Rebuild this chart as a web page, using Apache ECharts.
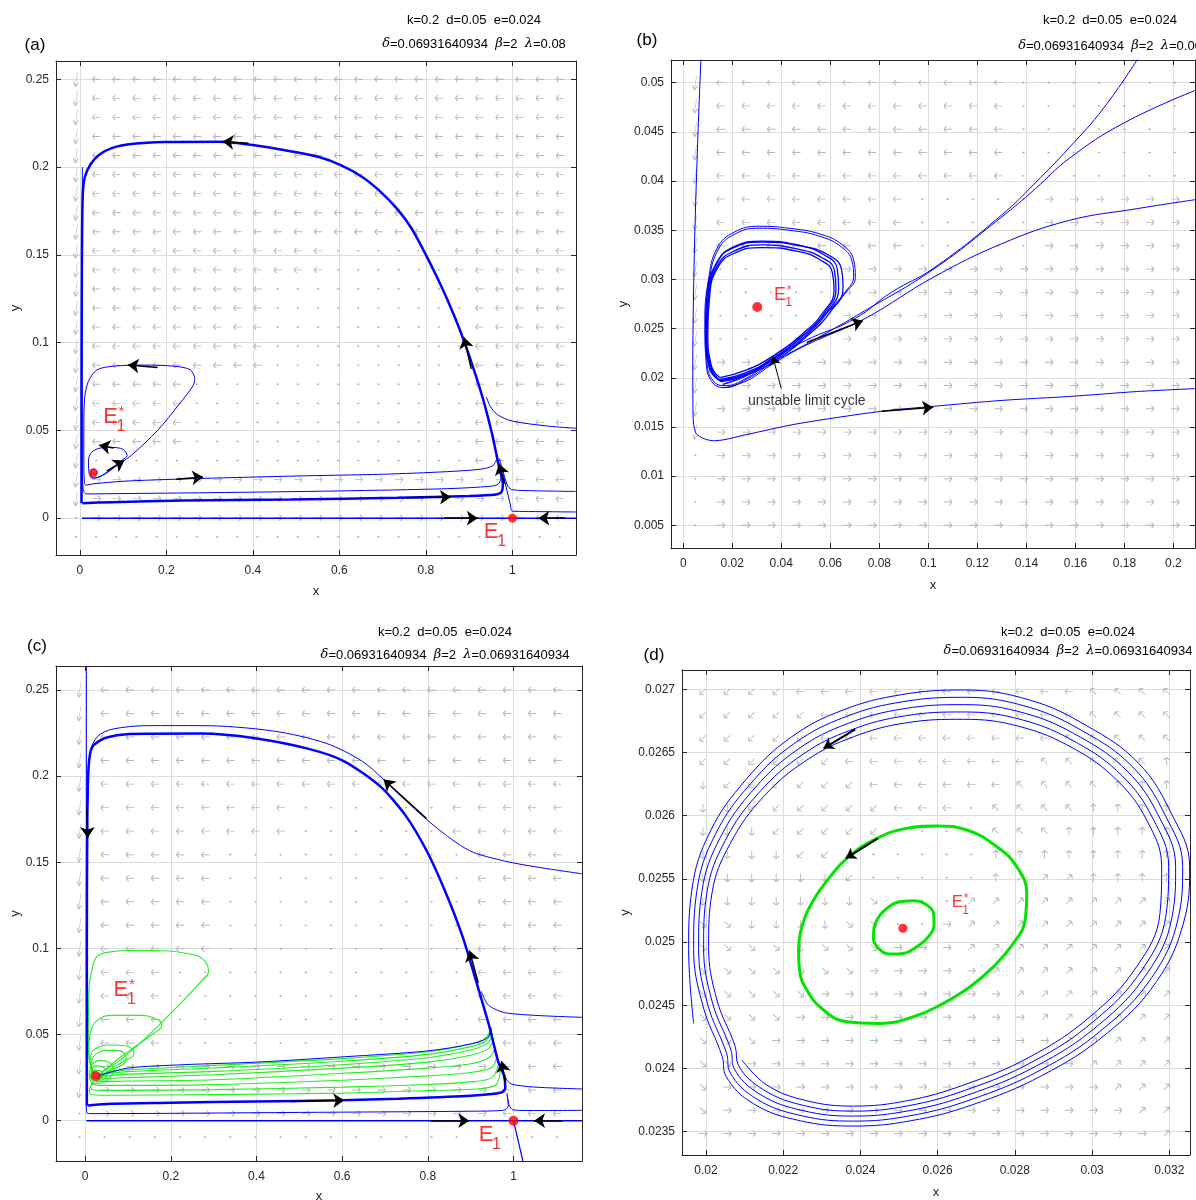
<!DOCTYPE html>
<html>
<head>
<meta charset="utf-8">
<script src="https://cdn.jsdelivr.net/npm/echarts@6/dist/echarts.min.js"></script>
<style>
html, body { margin: 0; padding: 0; background: #fff; }
#chart { width: 1196px; height: 1200px; }
</style>
</head>
<body>
<div id="chart"></div>
<script>
// ---------- panel (a) ----------
const aTicksX = [0, 0.2, 0.4, 0.6, 0.8, 1]
const aTicksY = [0, 0.05, 0.1, 0.15, 0.2, 0.25]
const aBigLoop = [[0.006,0.0085],[0.074,0.0091],[0.239,0.0100],[0.487,0.0106],[0.734,0.0116],[0.9,0.0126],[0.962,0.0135],[0.975,0.0150],[0.978,0.0200],[0.971,0.0270],[0.965,0.034],[0.953,0.048],[0.936,0.0644],[0.916,0.0807],[0.891,0.099],[0.866,0.115],[0.833,0.1335],[0.8,0.150],[0.767,0.165],[0.734,0.176],[0.693,0.1864],[0.652,0.1945],[0.602,0.2012],[0.553,0.2057],[0.487,0.209],[0.404,0.2124],[0.322,0.2144],[0.198,0.2142],[0.124,0.2132],[0.074,0.2108],[0.045,0.207],[0.025,0.2016],[0.012,0.1945],[0.007,0.185],[0.005,0.15],[0.004,0.07],[0.004,0.0085]]
const aSpiral = [[0.031,0.0258],[0.036,0.0245],[0.04,0.0262],[0.035,0.0278],[0.028,0.0272],[0.026,0.0245],[0.033,0.0228],[0.05,0.0240],[0.075,0.0280],[0.098,0.0330],[0.1095,0.0356],[0.1,0.0392],[0.075,0.0403],[0.045,0.0398],[0.027,0.0375],[0.02,0.033],[0.021,0.0265],[0.028,0.0228],[0.045,0.0235],[0.08,0.029],[0.12,0.036],[0.18,0.05],[0.23,0.065],[0.262,0.0755],[0.2657,0.0795],[0.255,0.0845],[0.22,0.0865],[0.15,0.0872],[0.08,0.0866],[0.04,0.0845],[0.02,0.078],[0.011,0.068],[0.0093,0.05],[0.0095,0.03],[0.0105,0.021],[0.0135,0.0188],[0.03,0.0195],[0.1,0.021],[0.2,0.022],[0.28,0.0226],[0.5,0.024],[0.7,0.025],[0.85,0.0265],[0.93,0.028],[0.955,0.03],[0.965,0.034]]
const aLowFlow = [[0.006,0.2],[0.005,0.1],[0.006,0.03],[0.008,0.016],[0.015,0.0138],[0.1,0.014],[0.3,0.0145],[0.6,0.0155],[0.85,0.0168],[0.95,0.0182],[0.968,0.0195],[0.975,0.024]]
const aRight1 = [[1.147,0.0512],[1.08,0.0525],[1.0,0.0553],[0.965,0.059],[0.948,0.064],[0.94,0.069]]
const aRight2 = [[1.147,0.0152],[1.05,0.0156],[1.0,0.0162],[0.99,0.0180],[0.985,0.021],[0.978,0.027]]
const aRight3 = [[1.147,0.0035],[1.03,0.0038],[1.0,0.004],[0.995,0.008],[0.987,0.016],[0.978,0.026],[0.97,0.034]]
const aAxisFlow = [[0.005,0],[1.147,0]]
const aArrows = [[[0.39,0.2135],[0.33,0.2145]],[[0.905,0.085],[0.888,0.103]],[[0.062,0.0268],[0.103,0.0329]],[[0.078,0.04],[0.045,0.0415]],[[0.18,0.0858],[0.111,0.0872]],[[0.223,0.0222],[0.285,0.0234]],[[0.755,0.0116],[0.858,0.012]],[[0.842,0],[0.92,0]],[[1.122,0],[1.06,0]],[[0.982,0.0197],[0.969,0.031]]]
const aEquilibria = [[1,0],[0.031,0.0258]]
const aQuiverRows = [
  'D444444444444444444444444','D444444444444444444444444','D444444444444444444444444',
  'D444444444444444444444444','D444444444444444444444444','D444444444444444444444444',
  'D444444444444444444444444','D444444444444444444444444','D444444444444444444444444',
  'D444444444444......444444','D444444444444......444444',
  'D444444444..........44444','D444444444..........44444','D444444444..........44444',
  'D444444444..........44444','D444444444..........44444',
  'D44444..............44444','D44444..............44444','D44444..............44444',
  'D44444..............44444','D...................44444',
  'D666666666666666666666444','D666666666666666666666444',
  '.666666666666666666666444','.........................'
]

// ---------- panel (b) ----------
const bTicksX = [0, 0.02, 0.04, 0.06, 0.08, 0.1, 0.12, 0.14, 0.16, 0.18, 0.2]
const bTicksY = [0.005, 0.01, 0.015, 0.02, 0.025, 0.03, 0.035, 0.04, 0.045, 0.05]
const bLeftFlow = [[0.0072,0.0524],[0.0058,0.0434],[0.0045,0.0325],[0.0039,0.0217],[0.0040,0.0162],[0.0051,0.0144],[0.0086,0.0138],[0.0128,0.0136],[0.0253,0.0142],[0.046,0.0153],[0.081,0.0166],[0.102,0.0171],[0.13,0.0177],[0.1575,0.0181],[0.185,0.0186],[0.2088,0.0189]]
const bCycle1 = [[0.014893,0.020024],[0.02533,0.020748],[0.036465,0.022196],[0.048991,0.024549],[0.057342,0.026722],[0.061517,0.028894],[0.060821,0.030704],[0.05595,0.031971],[0.046207,0.032876],[0.032289,0.033238],[0.021155,0.032695],[0.014196,0.031247],[0.010717,0.02817],[0.010021,0.024549],[0.011413,0.021291],[0.014893,0.020024]]
const bCycle2 = [[0.0147,0.0198],[0.0254,0.0205],[0.0368,0.0220],[0.0495,0.0244],[0.0580,0.0267],[0.0623,0.0290],[0.0617,0.0309],[0.0566,0.0322],[0.0463,0.0331],[0.0322,0.0335],[0.0209,0.0329],[0.0140,0.0314],[0.0104,0.0282],[0.0097,0.0245],[0.0111,0.0212],[0.0147,0.0198]]
const bCycle3 = [[0.0150,0.0197],[0.0258,0.0204],[0.0372,0.0219],[0.0500,0.0243],[0.0588,0.0267],[0.0634,0.0291],[0.0628,0.0311],[0.0574,0.0325],[0.0468,0.0335],[0.0322,0.0339],[0.0205,0.0333],[0.0137,0.0316],[0.0101,0.0283],[0.0094,0.0245],[0.0108,0.0211],[0.0150,0.0197]]
const bCycle4 = [[0.0156,0.0196],[0.0262,0.0203],[0.0378,0.0218],[0.0508,0.0243],[0.0600,0.0267],[0.0652,0.0292],[0.0646,0.0310],[0.0590,0.0325],[0.0478,0.0334],[0.0320,0.0338],[0.0203,0.0332],[0.0134,0.0316],[0.0097,0.0283],[0.0092,0.0245],[0.0106,0.0210],[0.0156,0.0196]]
const bEscape1 = [[0.0165,0.0194],[0.0260,0.0203],[0.0370,0.0222],[0.0500,0.0246],[0.0590,0.0268],[0.0660,0.0287],[0.0695,0.0303],[0.0688,0.0319],[0.0645,0.0333],[0.0555,0.0344],[0.0430,0.0350],[0.0310,0.0352],[0.0210,0.0346],[0.0142,0.0330],[0.0106,0.0298],[0.0091,0.0255],[0.0097,0.0215],[0.0122,0.0197],[0.0168,0.0192],[0.0260,0.0200],[0.0365,0.0219],[0.0500,0.0238],[0.0699,0.0260],[0.0850,0.0287],[0.1019,0.0311],[0.1297,0.0365],[0.1436,0.0398],[0.1575,0.0434],[0.1715,0.0474],[0.1854,0.0524]]
const bEscape2 = [[0.0160,0.0193],[0.0258,0.0202],[0.0372,0.0221],[0.0505,0.0246],[0.0596,0.0268],[0.0668,0.0288],[0.0702,0.0302],[0.0695,0.0320],[0.0650,0.0335],[0.0560,0.0346],[0.0432,0.0352],[0.0310,0.0354],[0.0208,0.0348],[0.0139,0.0332],[0.0103,0.0300],[0.0088,0.0255],[0.0094,0.0214],[0.0120,0.0195],[0.0168,0.0190],[0.0262,0.0199],[0.0368,0.0216],[0.0530,0.0238],[0.0740,0.0268],[0.1019,0.0310],[0.1297,0.0363],[0.1436,0.0392],[0.1575,0.0423],[0.1798,0.0459],[0.2088,0.0492]]
const bEscape3 = [[0.0170,0.0190],[0.0260,0.0197],[0.0365,0.0214],[0.0500,0.0233],[0.0740,0.0260],[0.1019,0.0302],[0.1297,0.0336],[0.1575,0.0360],[0.1854,0.0372],[0.2088,0.0381]]
const bArrows = [[[0.081,0.0166],[0.102,0.0170]],[[0.0504,0.0236],[0.0733,0.0258]]]
const bNoteArrow = [[[0.04,0.0189],[0.0365,0.0222]]]
const bEquilibrium = [[0.0302,0.0272]]
const bQuiverRows = [
  'D444444444444.......','D444444444444.......','D444444444444.......','D444444444444.......','D444444444444.......',
  'D44444444.....666666','D44444444.....666666','D44444444.....666666',
  'D.....66666666666666','D.....66666666666666','D.....66666666666666','D.....66666666666666',
  'D6666666666666666666','D6666666666666666666','D6666666666666666666','D6666666666666666666',
  '.6666666666666666666','.6666666666666666666','.6666666666666666666','.6666666666666666666'
]

// ---------- panel (c) ----------
const cTicksX = [0, 0.2, 0.4, 0.6, 0.8, 1]
const cTicksY = [0, 0.05, 0.1, 0.15, 0.2, 0.25]
const cBigLoop = [[0.006,0.0088],[0.06,0.0098],[0.2,0.0104],[0.396,0.0112],[0.6,0.0118],[0.73,0.0128],[0.9,0.0145],[0.972,0.0164],[0.981,0.019],[0.978,0.026],[0.964,0.0346],[0.943,0.0553],[0.914,0.08],[0.881,0.107],[0.839,0.134],[0.797,0.1568],[0.747,0.1775],[0.689,0.194],[0.605,0.2086],[0.522,0.2158],[0.396,0.222],[0.271,0.2247],[0.104,0.2245],[0.046,0.222],[0.0167,0.2169],[0.008,0.205],[0.005,0.17],[0.004,0.1],[0.004,0.0088]]
const cTopFlow = [[1.16,0.1433],[1.06,0.147],[0.981,0.1506],[0.897,0.1568],[0.814,0.1713],[0.73,0.19],[0.697,0.198],[0.647,0.2086],[0.563,0.219],[0.438,0.2262],[0.271,0.2293],[0.146,0.2293],[0.0626,0.2272],[0.029,0.223],[0.0125,0.2148],[0.007,0.196],[0.005,0.17]]
const cLeftFlow = [[0.003,0.264],[0.003,0.1],[0.003,0.01],[0.004,0.0045],[0.01,0.0041],[0.5,0.0048],[0.9,0.0055],[0.975,0.006],[0.988,0.0085],[0.985,0.015]]
const cRight1 = [[1.16,0.06],[1.06,0.061],[0.981,0.0626],[0.955,0.065],[0.939,0.0677],[0.925,0.075]]
const cRight2 = [[1.16,0.0184],[1.05,0.0195],[0.997,0.0211],[0.985,0.0235],[0.978,0.028]]
const cRight3 = [[1.16,0.006],[1.05,0.0059],[1.0,0.0062],[0.99,0.009],[0.985,0.016]]
const cAxisFlow = [[0.003,0],[1.16,0]]
const cBelowAxis = [[1.0,0],[1.022,-0.0234]]
const cMidBlue = [[0.03,0.026],[0.1,0.0305],[0.23,0.0325],[0.4,0.034],[0.605,0.0371],[0.8,0.0405],[0.9,0.0445],[0.939,0.048],[0.948,0.054]]
const cGreenSpiral = [[0.025,0.0259],[0.032,0.0262],[0.03,0.0275],[0.022,0.0273],[0.018,0.0262],[0.022,0.0245],[0.034,0.0245],[0.042,0.0262],[0.038,0.0285],[0.025,0.0292],[0.015,0.028],[0.013,0.026],[0.017,0.0235],[0.03,0.0225],[0.046,0.0245],[0.052,0.0275],[0.045,0.0305],[0.028,0.0318],[0.015,0.0305],[0.01,0.027],[0.012,0.0235],[0.022,0.0215],[0.04,0.022],[0.058,0.025],[0.066,0.0295],[0.058,0.0335],[0.038,0.035],[0.02,0.0338],[0.011,0.03]]
const cGreenLoops = [
  [[0.03,0.026],[0.046,0.0294],[0.079,0.0346],[0.146,0.0491],[0.2295,0.0698],[0.275,0.082],[0.288,0.0864],[0.28,0.0925],[0.25,0.0965],[0.146,0.0988],[0.104,0.0988],[0.06,0.098],[0.029,0.0955],[0.0167,0.0884],[0.0083,0.0719],[0.0075,0.05],[0.01,0.035],[0.02,0.028]],
  [[0.03,0.025],[0.046,0.0294],[0.104,0.0408],[0.163,0.0512],[0.179,0.0553],[0.171,0.0584],[0.129,0.0611],[0.063,0.0611],[0.029,0.0584],[0.0125,0.0512],[0.008,0.0408],[0.0125,0.0325],[0.025,0.0273]],
  [[0.03,0.0235],[0.06,0.03],[0.09,0.0345],[0.114,0.0387],[0.105,0.0425],[0.08,0.0438],[0.054,0.0439],[0.03,0.0425],[0.015,0.0395],[0.0125,0.0345],[0.015,0.028],[0.025,0.0245]],
  [[0.03,0.024],[0.06,0.029],[0.096,0.0356],[0.09,0.0395],[0.07,0.0408],[0.05,0.0408],[0.03,0.0395],[0.017,0.036],[0.014,0.031],[0.02,0.026]]
]
const cGreenBands = [
  [[0.03,0.0255],[0.05,0.028],[0.1,0.0295],[0.3,0.0321],[0.6,0.036],[0.8,0.04],[0.9,0.0445],[0.935,0.048],[0.948,0.054]],
  [[0.03,0.025],[0.05,0.0272],[0.1,0.0285],[0.3,0.0306],[0.6,0.0345],[0.8,0.0385],[0.9,0.043],[0.937,0.0465],[0.95,0.053]],
  [[0.03,0.0245],[0.05,0.026],[0.1,0.027],[0.3,0.0286],[0.6,0.0325],[0.8,0.0365],[0.9,0.041],[0.94,0.045],[0.952,0.051]],
  [[0.03,0.024],[0.05,0.0245],[0.1,0.025],[0.3,0.0267],[0.6,0.0305],[0.8,0.034],[0.9,0.038],[0.942,0.042],[0.955,0.048]],
  [[0.025,0.0235],[0.05,0.0228],[0.1,0.023],[0.3,0.0238],[0.6,0.0275],[0.8,0.0305],[0.9,0.033],[0.945,0.037],[0.958,0.043]],
  [[0.02,0.023],[0.015,0.0215],[0.03,0.0205],[0.08,0.0205],[0.3,0.0209],[0.6,0.0235],[0.8,0.026],[0.9,0.028],[0.95,0.031],[0.962,0.038]],
  [[0.02,0.0225],[0.012,0.0195],[0.02,0.0178],[0.07,0.0176],[0.3,0.018],[0.6,0.0195],[0.8,0.021],[0.9,0.0225],[0.95,0.025],[0.965,0.033]],
  [[0.018,0.022],[0.01,0.018],[0.013,0.0152],[0.05,0.0148],[0.3,0.0151],[0.6,0.016],[0.8,0.0175],[0.92,0.0185],[0.96,0.021],[0.97,0.03]]
]
const cArrows = [[[0.004,0.1817],[0.006,0.164]],[[0.797,0.1754],[0.697,0.198]],[[0.918,0.08],[0.897,0.0988]],[[0.981,0.0222],[0.972,0.0346]],[[0.48,0.0112],[0.605,0.0118]],[[0.806,0],[0.897,0]],[[1.114,0],[1.048,0]]]
const cEquilibria = [[1,0],[0.025,0.0259]]
const cQuiverRows = [
  'D4444444444444444444','D4444444444444444444','D4444444444444444444','D4444444444444444444','D4444444444444444444',
  'D44444444......44444','D44444444......44444',
  'D44444..........4444','D44444..........4444','D44444..........4444','D44444..........4444','D44444..........4444',
  'D444............4444','D444............4444','D444............4444','D444............4444',
  'D6666666666666666444','D6666666666666666444','.6666666666666666444','....................'
]

// ---------- panel (d) ----------
const dTicksX = [0.02, 0.022, 0.024, 0.026, 0.028, 0.03, 0.032]
const dTicksY = [0.0235, 0.024, 0.0245, 0.025, 0.0255, 0.026, 0.0265, 0.027]
// one outward spiral, five turns, read along the trajectory
const dBlueSpiral = [
  [0.020932,0.024067],[0.021579,0.023869],[0.022614,0.023745],[0.023822,0.023703],[0.025202,0.023745],[0.026669,0.023869],[0.028394,0.024093],[0.029947,0.02441],[0.031155,0.024806],[0.031758,0.025228],[0.031802,0.025597],[0.031413,0.025966],[0.030637,0.026283],[0.029516,0.026533],[0.028135,0.026705],[0.026669,0.026763],[0.025202,0.026736],[0.023822,0.026625],[0.022614,0.026441],[0.021492,0.026151],[0.02063,0.025781],[0.020155,0.025386],[0.020069,0.024964],[0.020285,0.024542],[0.020759,0.024173],
  [0.020829,0.024035],[0.021493,0.023832],[0.022571,0.023705],[0.023822,0.023663],[0.025228,0.023705],[0.026721,0.023829],[0.028472,0.024056],[0.030051,0.024376],[0.031284,0.024777],[0.031913,0.025212],[0.031983,0.025597],[0.031568,0.025982],[0.030775,0.026317],[0.029602,0.026578],[0.028195,0.026758],[0.026669,0.026821],[0.025168,0.026791],[0.023753,0.026678],[0.022511,0.026486],[0.02138,0.026185],[0.020501,0.025805],[0.020026,0.025394],[0.01994,0.024959],[0.020164,0.024526],[0.020647,0.024147],
  [0.020725,0.024004],[0.021406,0.023795],[0.022528,0.023666],[0.023822,0.023624],[0.025254,0.023666],[0.026773,0.02379],[0.028549,0.024019],[0.030154,0.024341],[0.031414,0.024748],[0.032069,0.025196],[0.032164,0.025597],[0.031724,0.025998],[0.030913,0.026352],[0.029689,0.026623],[0.028256,0.026811],[0.026669,0.026879],[0.025133,0.026847],[0.023684,0.026731],[0.022407,0.026531],[0.021268,0.02622],[0.020371,0.025828],[0.019896,0.025402],[0.01981,0.024953],[0.020043,0.02451],[0.020535,0.02412],
  [0.020622,0.023972],[0.02132,0.023758],[0.022485,0.023626],[0.023822,0.023584],[0.02528,0.023626],[0.026824,0.02375],[0.028627,0.023982],[0.030258,0.024307],[0.031543,0.024719],[0.032224,0.025181],[0.032346,0.025597],[0.031879,0.026013],[0.031051,0.026386],[0.029775,0.026667],[0.028316,0.026863],[0.026669,0.026937],[0.025099,0.026902],[0.023615,0.026783],[0.022304,0.026575],[0.021156,0.026254],[0.020242,0.025852],[0.019767,0.02541],[0.019681,0.024948],[0.019923,0.024495],[0.020422,0.024094],
  [0.020518,0.02394],[0.021234,0.023721],[0.022442,0.023587],[0.023822,0.023545],[0.025306,0.023587],[0.026876,0.023711],[0.028704,0.023945],[0.030361,0.024273],[0.031673,0.02469],[0.032379,0.025165],[0.032527,0.025597],[0.032034,0.026029],[0.031189,0.02642],[0.029861,0.026712],[0.028377,0.026916],[0.026669,0.026995],[0.025064,0.026958],[0.023546,0.026836],[0.0222,0.02662],[0.021043,0.026288],[0.020112,0.025876],[0.019638,0.025418],[0.019552,0.024943],[0.019681,0.024357]
]
const dGreenInner = [[0.024339,0.025069],[0.024426,0.025175],[0.024684,0.025267],[0.025029,0.02532],[0.025375,0.025328],[0.02572,0.025294],[0.025892,0.025228],[0.025909,0.025148],[0.025763,0.025043],[0.025461,0.024964],[0.025116,0.024911],[0.024771,0.024906],[0.024469,0.024951],[0.024339,0.02503],[0.024339,0.025069]]
const dGreenOuter = [[0.022398,0.024937],[0.022485,0.025122],[0.022786,0.025333],[0.023218,0.025518],[0.023649,0.025663],[0.024339,0.025808],[0.025202,0.0259],[0.025978,0.025919],[0.026755,0.025887],[0.027531,0.025755],[0.028049,0.025597],[0.028308,0.025386],[0.028265,0.025175],[0.027962,0.02499],[0.027445,0.024806],[0.026841,0.024647],[0.026065,0.024502],[0.025375,0.02441],[0.024512,0.024357],[0.023649,0.02437],[0.023045,0.024463],[0.022614,0.024621],[0.022424,0.024779],[0.022398,0.024937]]
const dArrows = [[[0.023865,0.026684],[0.023045,0.026533]],[[0.024452,0.025821],[0.023623,0.025663]]]
const dEquilibrium = [[0.0251,0.02511]]
const dQuiverRows = [
  '11114444444444447777','11111444444444447777','11111444444444477777','11111144444444777778',
  '21111114444447777888','22111111444.77778888','22211111....77788888','2222111.....88888888',
  '2222221.....89998888','22222223...999999999','33222233..6999999999','33332333666999999999',
  '33333336666699999999','33333666666669999999','33336666666666999999','33366666666666699999',
  '33666666666666669999','36666666666666666999','36666666666666666699','66666666666666666669'
]

// ---------- layout ----------
const FONT = 'Liberation Sans, Arial, sans-serif'
const BLUE = '#0000ff'
const panels = [
  { grid: { left: 56, top: 61, width: 520, height: 494 }, xr: [-0.055, 1.147], yr: [-0.021, 0.2604],
    xt: aTicksX, yt: aTicksY, xGap: 30, yGap: 33,
    q: { rows: aQuiverRows, x0: -0.008, dx: 0.0466, yTop: 0.25, dy: 0.01086 } },
  { grid: { left: 671, top: 60, width: 524, height: 488 }, xr: [-0.005, 0.2088], yr: [0.0027, 0.0523],
    xt: bTicksX, yt: bTicksY, xGap: 31, yGap: 40,
    q: { rows: bQuiverRows, x0: 0.005, dx: 0.0103, yTop: 0.05, dy: 0.002368 } },
  { grid: { left: 56, top: 666, width: 526, height: 495 }, xr: [-0.068, 1.16], yr: [-0.0234, 0.2639],
    xt: cTicksX, yt: cTicksY, xGap: 29, yGap: 33,
    q: { rows: cQuiverRows, x0: -0.0125, dx: 0.0587, yTop: 0.25, dy: 0.01366 } },
  { grid: { left: 682, top: 670, width: 508, height: 485 }, xr: [0.01938, 0.032536], yr: [0.023316, 0.027153],
    xt: dTicksX, yt: dTicksY, xGap: 31, yGap: 50,
    q: { rows: dQuiverRows, x0: 0.019922, dx: 0.000632, yTop: 0.026982, dy: 0.000184 } }
]

const fmt = v => String(parseFloat(Number(v).toFixed(6)))
const ANG = { '4': 0, '1': 45, '2': 90, '3': 135, '6': 180, '9': -135, '8': -90, '7': -45, 'D': 82, '.': 0 }
const ARROW_PATH = 'path://M0,5L16,5M0,5L5,0M0,5L5,10'

const grids = []
const xAxes = []
const yAxes = []
panels.forEach((p, i) => {
  grids.push(Object.assign({ containLabel: false, outerBoundsMode: 'none' }, p.grid))
  const axisLine = { show: true, onZero: false, lineStyle: { color: '#262626', width: 1 } }
  const mk = (dim, second) => {
    const ticks = dim === 'x' ? p.xt : p.yt
    const r = dim === 'x' ? p.xr : p.yr
    return {
      type: 'value', gridIndex: i, min: r[0], max: r[1],
      position: dim === 'x' ? (second ? 'top' : 'bottom') : (second ? 'right' : 'left'),
      name: second ? '' : dim, nameLocation: 'middle',
      nameGap: dim === 'x' ? p.xGap : p.yGap,
      nameTextStyle: { fontFamily: FONT, fontSize: 13, color: '#262626' },
      axisLine: axisLine,
      axisTick: { show: true, inside: true, length: 5, customValues: ticks, lineStyle: { color: '#262626' } },
      axisLabel: { show: !second, customValues: ticks, formatter: fmt, color: '#262626',
        fontFamily: FONT, fontSize: 12, margin: dim === 'x' ? 10 : 7 },
      splitLine: { show: !second, lineStyle: { color: '#dcdcdc', width: 1 } }
    }
  }
  xAxes.push(mk('x', false), mk('x', true))
  yAxes.push(mk('y', false), mk('y', true))
})

const series = []
const ax = i => ({ xAxisIndex: 2 * i, yAxisIndex: 2 * i })

function quiver(i) {
  const q = panels[i].q
  const data = []
  q.rows.forEach((row, j) => {
    const y = q.yTop - j * q.dy
    for (let k = 0; k < row.length; k++) {
      const c = row[k]
      data.push({
        value: [q.x0 + k * q.dx, y],
        symbolRotate: ANG[c],
        symbolSize: c === 'D' ? [15, 5] : c === '.' ? [2, 2] : [8, 6]
      })
    }
  })
  series.push(Object.assign({
    type: 'scatter', symbol: ARROW_PATH, symbolKeepAspect: false, silent: true, z: 1,
    itemStyle: { color: 'rgba(0,0,0,0)', borderColor: '#a6a6a6', borderWidth: 1 },
    data: data
  }, ax(i)))
}

function curve(i, data, color, width, smooth) {
  series.push(Object.assign({
    type: 'line', data: data, showSymbol: false, symbol: 'none', silent: true, z: 2,
    smooth: smooth === undefined ? 0.3 : smooth, clip: true,
    lineStyle: { color: color, width: width }
  }, ax(i)))
}

function arrows(i, list, width, size) {
  series.push(Object.assign({
    type: 'lines', coordinateSystem: 'cartesian2d', silent: true, z: 4,
    symbol: ['none', 'arrow'], symbolSize: size || 11,
    lineStyle: { color: '#000', width: width || 1.5, opacity: 1, curveness: 0 },
    data: list.map(c => ({ coords: c }))
  }, ax(i)))
}

function dots(i, list, size) {
  series.push(Object.assign({
    type: 'scatter', symbol: 'circle', symbolSize: size, silent: true, z: 5,
    itemStyle: { color: '#ff0000' }, data: list
  }, ax(i)))
}

// E label with superscript * and/or subscript 1
function eLabel(i, pos, size, star) {
  const lab = (text, fs, off) => ({
    value: pos,
    label: { show: true, position: 'inside', formatter: text, fontSize: fs, offset: off,
      color: '#ff0000', fontFamily: FONT }
  })
  const d = [lab('E', size, [0, 0]), lab('1', Math.round(size * 0.72), [size * 0.48, size * 0.45])]
  if (star) d.push(lab('*', Math.round(size * 0.68), [size * 0.5, -size * 0.2]))
  series.push(Object.assign({
    type: 'scatter', symbolSize: 1, silent: true, z: 6,
    itemStyle: { color: 'rgba(0,0,0,0)' }, data: d
  }, ax(i)))
}

// (a)
quiver(0)
curve(0, aAxisFlow, BLUE, 1.5, 0)
curve(0, aRight1, BLUE, 1)
curve(0, aRight2, BLUE, 1)
curve(0, aRight3, BLUE, 1)
curve(0, aLowFlow, BLUE, 1)
curve(0, aSpiral, BLUE, 1)
curve(0, aBigLoop, BLUE, 2.5, 0.25)
arrows(0, aArrows)
dots(0, aEquilibria, 9)
eLabel(0, [0.0709, 0.0578], 22, true)
eLabel(0, [0.951, -0.0078], 22, false)

// (b)
quiver(1)
curve(1, bLeftFlow, BLUE, 1)
;[bCycle1, bCycle2, bCycle3, bCycle4].forEach(c => curve(1, c, BLUE, 1.3, 0.5))
curve(1, bEscape1, BLUE, 1, 0.45)
curve(1, bEscape2, BLUE, 1, 0.45)
curve(1, bEscape3, BLUE, 1, 0.4)
arrows(1, bArrows)
arrows(1, bNoteArrow, 1, 9)
dots(1, bEquilibrium, 10)
eLabel(1, [0.0395, 0.02846], 18, true)
series.push(Object.assign({
  type: 'scatter', symbolSize: 1, silent: true, z: 6, itemStyle: { color: 'rgba(0,0,0,0)' },
  data: [{ value: [0.0504, 0.01767], label: { show: true, position: 'inside', formatter: 'unstable limit cycle',
    fontSize: 14, color: '#000', fontFamily: FONT } }]
}, ax(1)))

// (c)
quiver(2)
curve(2, cAxisFlow, BLUE, 1.5, 0)
curve(2, cBelowAxis, BLUE, 1.2, 0)
curve(2, cRight1, BLUE, 1)
curve(2, cRight2, BLUE, 1)
curve(2, cRight3, BLUE, 1)
curve(2, cLeftFlow, BLUE, 1)
curve(2, cTopFlow, BLUE, 1)
cGreenBands.forEach(c => curve(2, c, '#22ee22', 1.1))
cGreenLoops.forEach(c => curve(2, c, '#22ee22', 1.1, 0.45))
curve(2, cGreenSpiral, '#22ee22', 1.1, 0.45)
curve(2, cMidBlue, BLUE, 1)
curve(2, cBigLoop, BLUE, 2.5, 0.25)
arrows(2, cArrows)
dots(2, cEquilibria, 10)
eLabel(2, [0.0834, 0.076], 22, true)
eLabel(2, [0.9358, -0.0081], 22, false)

// (d)
quiver(3)
curve(3, dBlueSpiral, BLUE, 1, 0.4)
curve(3, dGreenOuter, '#00e600', 3, 0.45)
curve(3, dGreenInner, '#00e600', 3, 0.45)
arrows(3, dArrows, 2, 10)
dots(3, dEquilibrium, 9)
eLabel(3, [0.026515, 0.025313], 17, true)

const params = (lam) => '{g|δ}=0.06931640934  {g|β}=2  {g|λ}=' + lam
const txt = (x, y, text, size, rich) => ({
  type: 'text', x: x, y: y, silent: true,
  style: { text: text, fill: '#000', fontFamily: FONT, fontSize: size, align: 'center', verticalAlign: 'middle',
    rich: rich ? { g: { fontFamily: 'DejaVu Serif', fontStyle: 'italic', fontSize: 13, fill: '#000' } } : undefined }
})
const graphics = [
  txt(35, 45, '(a)', 17), txt(474, 20, 'k=0.2  d=0.05  e=0.024', 13), txt(474, 44, params('0.08'), 13, true),
  txt(647, 40, '(b)', 17), txt(1110, 20, 'k=0.2  d=0.05  e=0.024', 13), txt(1110, 46, params('0.06'), 13, true),
  txt(37, 646, '(c)', 17), txt(445, 632, 'k=0.2  d=0.05  e=0.024', 13), txt(445, 655, params('0.06931640934'), 13, true),
  txt(654, 655, '(d)', 17), txt(1068, 632, 'k=0.2  d=0.05  e=0.024', 13), txt(1068, 651, params('0.06931640934'), 13, true)
]

const chart = echarts.init(document.getElementById('chart'))
chart.setOption({
  animation: false,
  backgroundColor: '#fff',
  grid: grids,
  xAxis: xAxes,
  yAxis: yAxes,
  graphic: graphics,
  series: series
})
</script>
</body>
</html>
